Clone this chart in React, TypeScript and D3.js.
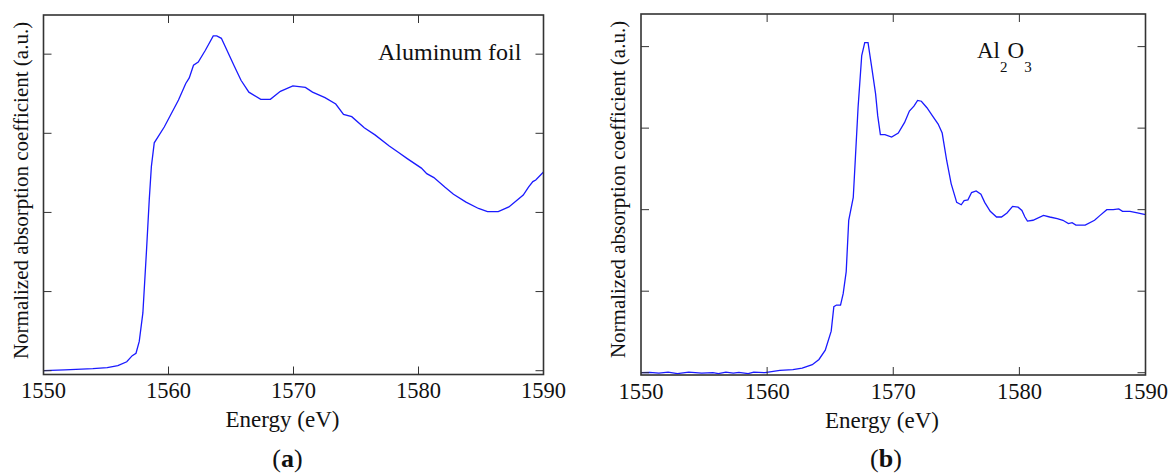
import React from "react";
import * as d3 from "d3";

// Panel (a): Aluminum foil
const foilEnergy = [1550, 1551.7, 1553.95, 1555.1, 1555.95, 1556.66, 1557.1, 1557.4, 1557.66, 1557.95, 1558.23, 1558.46, 1558.63, 1558.86, 1559.66, 1560.8, 1561.38, 1561.66, 1562.0, 1562.38, 1562.95, 1563.58, 1563.86, 1564.23, 1565.23, 1565.8, 1566.43, 1567.38, 1568.15, 1568.95, 1569.95, 1570.95, 1571.52, 1572.52, 1573.38, 1574.0, 1574.66, 1575.66, 1576.52, 1577.66, 1578.38, 1579.1, 1580.23, 1580.66, 1581.23, 1582.1, 1582.8, 1583.8, 1584.8, 1585.52, 1586.38, 1587.23, 1588.38, 1588.8, 1589.15, 1589.38, 1590];
const foilValue = [0.0, 0.01, 0.025, 0.04, 0.063, 0.113, 0.19, 0.22, 0.37, 0.73, 1.49, 2.16, 2.58, 2.88, 3.08, 3.42, 3.63, 3.70, 3.86, 3.90, 4.05, 4.23, 4.23, 4.20, 3.86, 3.67, 3.52, 3.43, 3.43, 3.53, 3.60, 3.58, 3.52, 3.45, 3.37, 3.24, 3.21, 3.07, 2.98, 2.84, 2.76, 2.68, 2.56, 2.49, 2.44, 2.32, 2.23, 2.13, 2.05, 2.01, 2.01, 2.07, 2.22, 2.32, 2.39, 2.41, 2.51];

// Panel (b): Al2O3
const oxideEnergy = [1550, 1550.68, 1551.42, 1552.15, 1552.89, 1553.78, 1554.81, 1555.7, 1556.14, 1556.73, 1557.32, 1557.76, 1558.5, 1558.94, 1559.83, 1561.01, 1562.04, 1562.78, 1563.58, 1564.11, 1564.61, 1565.08, 1565.29, 1565.5, 1565.82, 1566.03, 1566.27, 1566.47, 1566.83, 1567.0, 1567.21, 1567.5, 1567.74, 1568.0, 1568.3, 1568.6, 1568.77, 1568.98, 1569.34, 1569.87, 1570.4, 1570.9, 1571.28, 1571.64, 1571.93, 1572.23, 1572.67, 1573.11, 1573.56, 1573.88, 1574.24, 1574.59, 1575.03, 1575.39, 1575.62, 1575.92, 1576.21, 1576.57, 1576.95, 1577.25, 1577.69, 1578.19, 1578.58, 1579.02, 1579.46, 1579.9, 1580.2, 1580.44, 1580.64, 1581.08, 1581.91, 1582.41, 1583.0, 1583.45, 1583.89, 1584.18, 1584.48, 1585.22, 1585.96, 1586.4, 1586.93, 1587.44, 1587.88, 1588.18, 1588.77, 1589.36, 1590];
const oxideValue = [0, 0.004, -0.004, 0.008, -0.012, 0.008, -0.004, 0, -0.012, 0.008, -0.004, 0.004, -0.012, 0.008, 0, 0.029, 0.037, 0.057, 0.098, 0.163, 0.277, 0.51, 0.81, 0.83, 0.83, 0.97, 1.24, 1.87, 2.15, 2.64, 3.25, 3.89, 4.05, 4.05, 3.74, 3.42, 3.15, 2.92, 2.92, 2.89, 2.94, 3.07, 3.21, 3.27, 3.34, 3.33, 3.25, 3.15, 3.05, 2.94, 2.60, 2.32, 2.09, 2.06, 2.11, 2.12, 2.21, 2.23, 2.19, 2.09, 1.98, 1.91, 1.91, 1.96, 2.04, 2.03, 1.99, 1.91, 1.86, 1.87, 1.93, 1.91, 1.89, 1.87, 1.83, 1.84, 1.81, 1.81, 1.87, 1.93, 2.00, 2.00, 2.01, 1.98, 1.98, 1.96, 1.94];

const xTicks = [1550, 1560, 1570, 1580, 1590];
const yTicks = [0, 1, 2, 3, 4];

const FONT = "'Liberation Serif', 'Times New Roman', serif";

type PanelProps = {
  energy: number[];
  value: number[];
  left: number;
  right: number;
  top: number;
  bottom: number;
  yDomain: [number, number];
  yLabelX: number;
  yLabelY: number;
  tickBaseline: number;
  xLabelX: number;
  xLabelY: number;
  capX: number;
  capY: number;
  letter: string;
  children?: React.ReactNode;
};

function Panel(p: PanelProps) {
  const x = d3.scaleLinear().domain([1550, 1590]).range([p.left, p.right]);
  const y = d3.scaleLinear().domain(p.yDomain).range([p.bottom, p.top]);
  const pts = p.energy.map((e, i) => [e, p.value[i]] as [number, number]);
  const line = d3.line<[number, number]>().x((d) => x(d[0])).y((d) => y(d[1]));
  const tl = 8;
  const axisColor = "#333";
  return (
    <g>
      <path d={line(pts) || ""} fill="none" stroke="#1a1aff" strokeWidth={1.3} />
      {xTicks.slice(1, -1).map((t) => (
        <g key={"xt" + t}>
          <line x1={x(t)} x2={x(t)} y1={p.bottom} y2={p.bottom - tl} stroke={axisColor} strokeWidth={1} />
          <line x1={x(t)} x2={x(t)} y1={p.top} y2={p.top + tl} stroke={axisColor} strokeWidth={1} />
        </g>
      ))}
      {yTicks.map((t) => (
        <g key={"yt" + t}>
          <line x1={p.left} x2={p.left + tl} y1={y(t)} y2={y(t)} stroke={axisColor} strokeWidth={1} />
          <line x1={p.right} x2={p.right - tl} y1={y(t)} y2={y(t)} stroke={axisColor} strokeWidth={1} />
        </g>
      ))}
      <rect x={p.left} y={p.top} width={p.right - p.left} height={p.bottom - p.top} fill="none" stroke={axisColor} strokeWidth={1.6} />
      {xTicks.map((t) => (
        <text key={"xl" + t} x={x(t)} y={p.tickBaseline} textAnchor="middle" fontSize={22.5} fontFamily={FONT} fill="#111">
          {t}
        </text>
      ))}
      <text x={p.xLabelX} y={p.xLabelY} textAnchor="middle" fontSize={23} fontFamily={FONT} fill="#111">
        Energy (eV)
      </text>
      <text
        transform={`translate(${p.yLabelX},${p.yLabelY}) rotate(-90)`}
        textAnchor="middle"
        fontSize={21}
        fontFamily={FONT}
        fill="#111"
      >
        Normalized absorption coefficient (a.u.)
      </text>
      <text x={p.capX} y={p.capY} textAnchor="middle" fontSize={26} fontFamily={FONT} fill="#111">
        (<tspan fontWeight="bold">{p.letter}</tspan>)
      </text>
      {p.children}
    </g>
  );
}

export default function App() {
  return (
    <svg width={1174} height={473} style={{ position: "absolute", left: 0, top: 0, background: "#fff" }}>
      <rect x={0} y={0} width={1174} height={473} fill="#fff" />
      <Panel
        energy={foilEnergy}
        value={foilValue}
        left={43.5}
        right={543.5}
        top={15}
        bottom={374.5}
        yDomain={[-0.048, 4.495]}
        yLabelX={28}
        yLabelY={190.5}
        tickBaseline={398}
        xLabelX={282.5}
        xLabelY={426.5}
        capX={287.5}
        capY={466.5}
        letter="a"
      >
        <text x={378} y={60} fontSize={24} fontFamily={FONT} fill="#111">
          Aluminum foil
        </text>
      </Panel>
      <Panel
        energy={oxideEnergy}
        value={oxideValue}
        left={641}
        right={1145.5}
        top={14}
        bottom={375}
        yDomain={[-0.028, 4.4]}
        yLabelX={625}
        yLabelY={189.5}
        tickBaseline={399}
        xLabelX={882}
        xLabelY={428}
        capX={886}
        capY={466.5}
        letter="b"
      >
        <text x={977} y={58} fontSize={23} fontFamily={FONT} fill="#111">
          Al
          <tspan dy={14} fontSize={15}>2</tspan>
          <tspan dy={-14}>O</tspan>
          <tspan dy={14} fontSize={15}>3</tspan>
        </text>
      </Panel>
    </svg>
  );
}
